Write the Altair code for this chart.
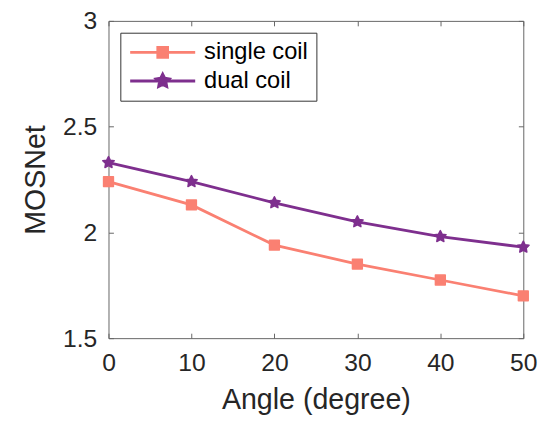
import math
import altair as alt
import pandas as pd

# ---- data ----
angles = [0, 10, 20, 30, 40, 50]
single_coil = [2.24, 2.13, 1.94, 1.85, 1.775, 1.70]
dual_coil = [2.33, 2.24, 2.14, 2.05, 1.98, 1.93]
series_names = ["single coil", "dual coil"]
series_colors = ["#FA8072", "#7E2F8E"]
x_ticks = [0, 10, 20, 30, 40, 50]
y_ticks = [1.5, 2, 2.5, 3]

rows = []
for name, vals in zip(series_names, [single_coil, dual_coil]):
    for a, v in zip(angles, vals):
        rows.append({"angle": a, "mos": v, "series": name})
df = pd.DataFrame(rows)

FONT = "Liberation Sans"
TXT = "#262626"
AX = "#666666"


def star_path(r_out, r_in):
    pts = []
    for k in range(10):
        ang = math.radians(-90 + 36 * k)
        r = r_out if k % 2 == 0 else r_in
        pts.append((r * math.cos(ang), r * math.sin(ang)))
    return "M" + "L".join(f"{x:.3f},{y:.3f}" for x, y in pts) + "Z"


STAR = star_path(1.0, 0.5)
LEG_SQUARE = "M-3.3,0H3.3M-0.5,-0.5H0.5V0.5H-0.5Z"
LEG_STAR = "M-3.3,0H3.3" + star_path(0.7, 0.35)
marker_shapes = ["square", STAR]
marker_sizes = [100, 150]

xscale = alt.Scale(domain=[0, 50], nice=False, zero=False)
yscale = alt.Scale(domain=[1.5, 3], nice=False, zero=False)

base = alt.Chart(df)

layers = []
# main lines (first one carries the labelled axes)
for i, name in enumerate(series_names):
    if i == 0:
        xax = alt.Axis(values=x_ticks, ticks=False, domain=False, grid=False,
                       orient="bottom", labelFlush=False, labelOverlap=False,
                       labelFontSize=25, labelFont=FONT, labelColor=TXT,
                       labelPadding=13,
                       title="Angle (degree)", titleFontSize=29, titleFont=FONT,
                       titleFontWeight="normal", titleColor=TXT, titlePadding=10)
        yax = alt.Axis(values=y_ticks, ticks=False, domain=False, grid=False,
                       orient="left", format="~g", labelFontSize=25, labelFont=FONT,
                       labelColor=TXT, labelPadding=12,
                       title="MOSNet", titleFontSize=29, titleFont=FONT,
                       titleFontWeight="normal", titleColor=TXT, titlePadding=12)
    else:
        xax = None
        yax = None
    layers.append(
        base.mark_line(strokeWidth=2.8, color=series_colors[i]).encode(
            x=alt.X("angle:Q", scale=xscale, axis=xax),
            y=alt.Y("mos:Q", scale=yscale, axis=yax),
        ).transform_filter(alt.datum.series == name)
    )

for i, name in enumerate(series_names):
    layers.append(
        base.mark_point(shape=marker_shapes[i], filled=True, size=marker_sizes[i],
                        opacity=1, color=series_colors[i], stroke=series_colors[i],
                        strokeWidth=1.5, strokeJoin="round").encode(
            x=alt.X("angle:Q", scale=xscale, axis=None),
            y=alt.Y("mos:Q", scale=yscale, axis=None),
        ).transform_filter(alt.datum.series == name)
    )

cscale = alt.Scale(domain=series_names, range=series_colors)
leg = alt.Legend(title=None, orient="top-left", offset=12, fillColor="white",
                 strokeColor="#333333", padding=8, symbolSize=400,
                 symbolStrokeWidth=2.8, symbolOffset=23, labelOffset=30,
                 labelFontSize=24, labelFont=FONT, labelColor="black",
                 rowPadding=4,
                 labelExpr="datum.label + '\u00a0\u00a0\u00a0\u00a0'")

tick_axis = dict(labels=False, domain=False, grid=False, ticks=True, tickSize=5,
                 tickColor=AX, tickWidth=1, offset=-5, title=None)

# legend layer (draws nothing) + inward ticks on bottom/left
layers.append(
    base.mark_point(filled=True, opacity=1).encode(
        x=alt.X("angle:Q", scale=xscale,
                axis=alt.Axis(values=x_ticks, orient="bottom", **tick_axis)),
        y=alt.Y("mos:Q", scale=yscale,
                axis=alt.Axis(values=y_ticks, orient="left", **tick_axis)),
        fill=alt.Fill("series:N", scale=cscale, legend=leg),
        stroke=alt.Stroke("series:N", scale=cscale, legend=leg),
        shape=alt.Shape("series:N", scale=alt.Scale(domain=series_names,
                                                    range=[LEG_SQUARE, LEG_STAR]),
                        legend=leg),
    ).transform_filter("false")
)

# inward ticks on top/right
layers.append(
    base.mark_point(opacity=0).encode(
        x=alt.X("angle:Q", scale=xscale,
                axis=alt.Axis(values=x_ticks, orient="top", **tick_axis)),
        y=alt.Y("mos:Q", scale=yscale,
                axis=alt.Axis(values=y_ticks, orient="right", **tick_axis)),
    ).transform_filter("false")
)

chart = alt.layer(*layers).resolve_axis(
    x="independent", y="independent"
).properties(
    width=421, height=322,
    autosize=alt.AutoSizeParams(type="none"),
    padding={"left": 102, "top": 10, "right": 20, "bottom": 81},
    background="white",
).configure_view(stroke=AX, strokeWidth=1)

chart.save("out.html", embed_options={"renderer": "svg", "actions": False})
